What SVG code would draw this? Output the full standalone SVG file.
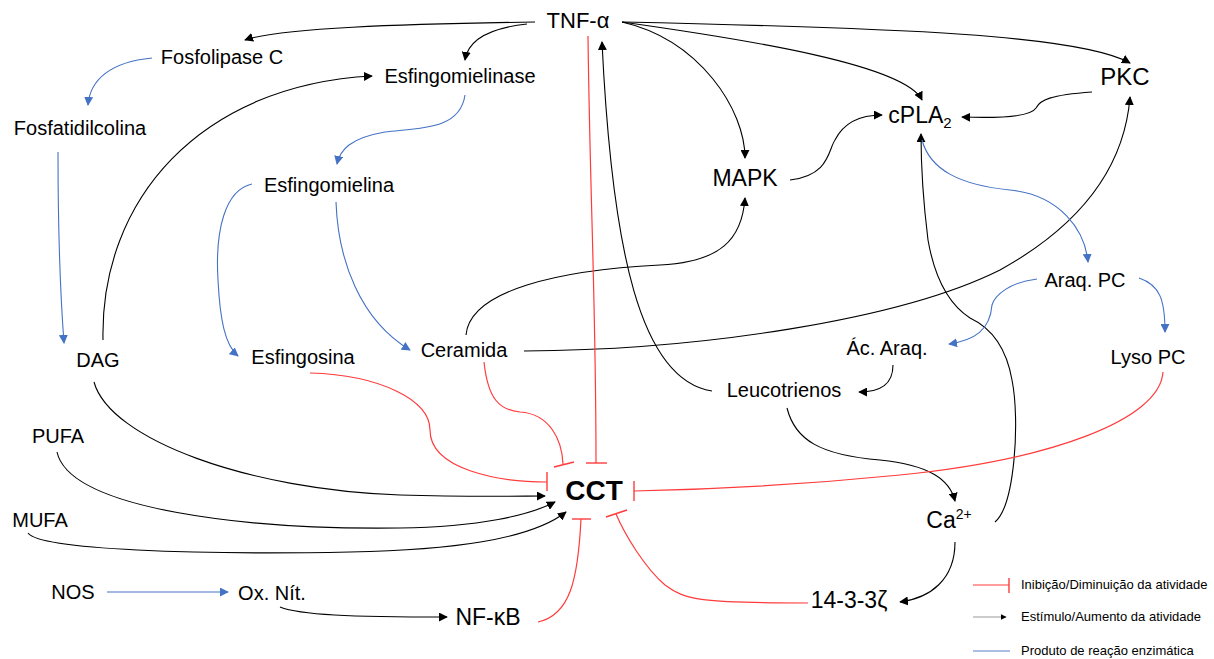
<svg xmlns="http://www.w3.org/2000/svg" width="1214" height="659" viewBox="0 0 1214 659">
<defs>
<style>
.t{font-family:"Liberation Sans",Arial,sans-serif;font-size:20px;fill:#000;text-anchor:middle}
.a{font-family:"Liberation Sans",Arial,sans-serif;font-size:23px;fill:#000;text-anchor:middle}
.big{font-family:"Liberation Sans",Arial,sans-serif;font-size:28px;font-weight:bold;fill:#000;text-anchor:middle}
.lg{font-family:"Liberation Sans",Arial,sans-serif;font-size:13px;fill:#000}
.k{fill:none;stroke:#000;stroke-width:1.1}
.b{fill:none;stroke:#4472C4;stroke-width:1.1}
.r{fill:none;stroke:#FF3B3B;stroke-width:1.2}
.bar{stroke:#FF3B3B;stroke-width:1.4}
</style>
<marker id="ak" viewBox="0 0 10 10" refX="9" refY="5" markerWidth="9" markerHeight="9" markerUnits="userSpaceOnUse" orient="auto"><path d="M0,0 L10,5 L0,10 z" fill="#000"/></marker>
<marker id="ab" viewBox="0 0 10 10" refX="9" refY="5" markerWidth="9" markerHeight="9" markerUnits="userSpaceOnUse" orient="auto"><path d="M0,0 L10,5 L0,10 z" fill="#4472C4"/></marker>
<marker id="ak2" viewBox="0 0 10 10" refX="9" refY="5" markerWidth="6" markerHeight="6" markerUnits="userSpaceOnUse" orient="auto"><path d="M0,0 L10,5 L0,10 z" fill="#000"/></marker>
</defs>
<rect width="1214" height="659" fill="#fff"/>

<g id="connectors">
<!-- black stimulation -->
<path class="k" marker-end="url(#ak)" d="M535,22 C 400,24 280,28 245,40"/>
<path class="k" marker-end="url(#ak)" d="M527,24 C 490,28 468,40 465,60"/>
<path class="k" marker-end="url(#ak)" d="M622,22 C 700,40 745,110 745,158"/>
<path class="k" marker-end="url(#ak)" d="M622,22 C 750,40 905,65 922,100"/>
<path class="k" marker-end="url(#ak)" d="M622,22 C 900,28 1080,35 1130,63"/>
<path class="k" marker-end="url(#ak)" d="M712,391 C 640,380 612,250 602,42"/>
<path class="k" marker-end="url(#ak)" d="M790,180 C 830,175 828,150 835,140 C 845,120 865,115 882,115"/>
<path class="k" marker-end="url(#ak)" d="M1092,92 C 1050,95 1040,100 1036,108 C 1030,118 990,118 962,117"/>
<path class="k" marker-end="url(#ak)" d="M466,335 C 470,290 560,270 660,265 C 720,262 742,240 745,198"/>
<path class="k" marker-end="url(#ak)" d="M524,351 C 700,350 900,320 1000,270 C 1090,220 1125,160 1130,97"/>
<path class="k" marker-end="url(#ak)" d="M103,340 C 100,200 200,85 372,76"/>
<path class="k" marker-end="url(#ak)" d="M94,382 C 110,440 250,490 400,495 C 470,497 520,496 545,496"/>
<path class="k" marker-end="url(#ak)" d="M57,452 C 70,510 250,530 400,528 C 480,527 530,515 555,502"/>
<path class="k" marker-end="url(#ak)" d="M28,533 C 40,550 200,555 350,552 C 450,550 530,540 566,512"/>
<path class="k" marker-end="url(#ak)" d="M280,607 C 300,615 350,617 447,617"/>
<path class="k" marker-end="url(#ak)" d="M787,408 C 795,440 820,455 880,460 C 930,465 950,480 955,501"/>
<path class="k" marker-end="url(#ak)" d="M955,542 C 955,580 930,598 900,602"/>
<path class="k" marker-end="url(#ak)" d="M995,522 C 1015,505 1020,420 1012,380 C 1005,340 985,325 970,318 C 950,305 935,280 928,240 C 923,200 921,170 921,134"/>
<path class="k" marker-end="url(#ak)" d="M893,365 C 893,385 880,392 859,392"/>
<!-- blue enzymatic products -->
<path class="b" marker-end="url(#ab)" d="M152,58 C 110,62 90,80 88,105"/>
<path class="b" marker-end="url(#ab)" d="M58,152 C 58,220 60,290 64,343"/>
<path class="b" marker-end="url(#ab)" d="M465,95 C 460,130 420,128 385,132 C 350,138 340,150 337,164"/>
<path class="b" marker-end="url(#ab)" d="M252,184 C 225,190 215,230 218,280 C 220,320 225,345 238,356"/>
<path class="b" marker-end="url(#ab)" d="M336,202 C 338,260 360,320 410,350"/>
<path class="b" marker-end="url(#ab)" d="M922,140 C 930,170 960,185 1010,190 C 1060,195 1085,230 1088,262"/>
<path class="b" marker-end="url(#ab)" d="M1037,279 C 1010,282 995,295 992,305 C 990,330 975,340 949,344"/>
<path class="b" marker-end="url(#ab)" d="M1139,278 C 1160,285 1165,300 1165,332"/>
<path class="b" marker-end="url(#ab)" d="M107,592 L 228,592"/>
<!-- red inhibition -->
<path class="r" d="M310,373 C 380,375 430,400 430,430 C 430,470 500,482 547,482"/>
<line class="bar" x1="547" y1="472" x2="547" y2="491"/>
<path class="r" d="M484,362 C 488,400 500,410 520,412 C 550,414 562,440 563,464"/>
<line class="bar" x1="554" y1="467" x2="574" y2="462"/>
<path class="r" d="M588,36 C 590,200 596,300 596,463"/>
<line class="bar" x1="586" y1="463" x2="607" y2="463"/>
<path class="r" d="M1163,372 C 1160,420 1050,460 900,475 C 780,487 680,490 634,491"/>
<line class="bar" x1="634" y1="481" x2="634" y2="501"/>
<path class="r" d="M808,603 C 700,603 685,600 665,585 C 645,568 625,535 616,514"/>
<line class="bar" x1="606" y1="517" x2="627" y2="510"/>
<path class="r" d="M538,622 C 570,615 578,580 581,519"/>
<line class="bar" x1="572" y1="519" x2="591" y2="519"/>
</g>

<g id="n-tnf"><text class="t" x="578" y="28" style="font-size:22px">TNF-α</text></g>
<g id="n-fosfolipase"><text class="t" x="222" y="64">Fosfolipase C</text></g>
<g id="n-esfingomielinase"><text class="t" x="460" y="83">Esfingomielinase</text></g>
<g id="n-fosfatidilcolina"><text class="t" x="80" y="135">Fosfatidilcolina</text></g>
<g id="n-esfingomielina"><text class="t" x="329" y="192">Esfingomielina</text></g>
<g id="n-mapk"><text class="a" x="745" y="186">MAPK</text></g>
<g id="n-cpla2"><text class="a" x="920" y="123">cPLA<tspan font-size="15" dy="5">2</tspan></text></g>
<g id="n-pkc"><text class="a" x="1125" y="85" style="font-size:24px">PKC</text></g>
<g id="n-dag"><text class="t" x="98" y="367">DAG</text></g>
<g id="n-esfingosina"><text class="t" x="303" y="364">Esfingosina</text></g>
<g id="n-ceramida"><text class="t" x="464" y="357">Ceramida</text></g>
<g id="n-araqpc"><text class="t" x="1085" y="287">Araq. PC</text></g>
<g id="n-acaraq"><text class="t" x="887" y="355">Ác. Araq.</text></g>
<g id="n-lysopc"><text class="t" x="1148" y="364">Lyso PC</text></g>
<g id="n-leucotrienos"><text class="t" x="784" y="397">Leucotrienos</text></g>
<g id="n-pufa"><text class="t" x="58" y="443">PUFA</text></g>
<g id="n-mufa"><text class="t" x="40" y="527">MUFA</text></g>
<g id="n-cct"><text class="big" x="594" y="500">CCT</text></g>
<g id="n-ca"><text class="a" x="949" y="528">Ca<tspan font-size="14" dy="-9">2+</tspan></text></g>
<g id="n-nos"><text class="t" x="73" y="599">NOS</text></g>
<g id="n-oxnit"><text class="t" x="272" y="600">Ox. Nít.</text></g>
<g id="n-nfkb"><text class="a" x="488" y="625">NF-κB</text></g>
<g id="n-1433"><text class="a" x="849" y="608">14-3-3ζ</text></g>

<g id="legend">
<line class="r" x1="973" y1="585" x2="1009" y2="585"/>
<line class="bar" x1="1009" y1="578" x2="1009" y2="593"/>
<text class="lg" x="1021" y="589">Inibição/Diminuição da atividade</text>
<line stroke="#999" stroke-width="1" x1="973" y1="617" x2="1006" y2="617" marker-end="url(#ak2)"/>
<text class="lg" x="1021" y="621">Estímulo/Aumento da atividade</text>
<line stroke="#8FAADC" stroke-width="1.5" x1="973" y1="651" x2="1010" y2="651"/>
<text class="lg" x="1021" y="655">Produto de reação enzimática</text>
</g>
</svg>
